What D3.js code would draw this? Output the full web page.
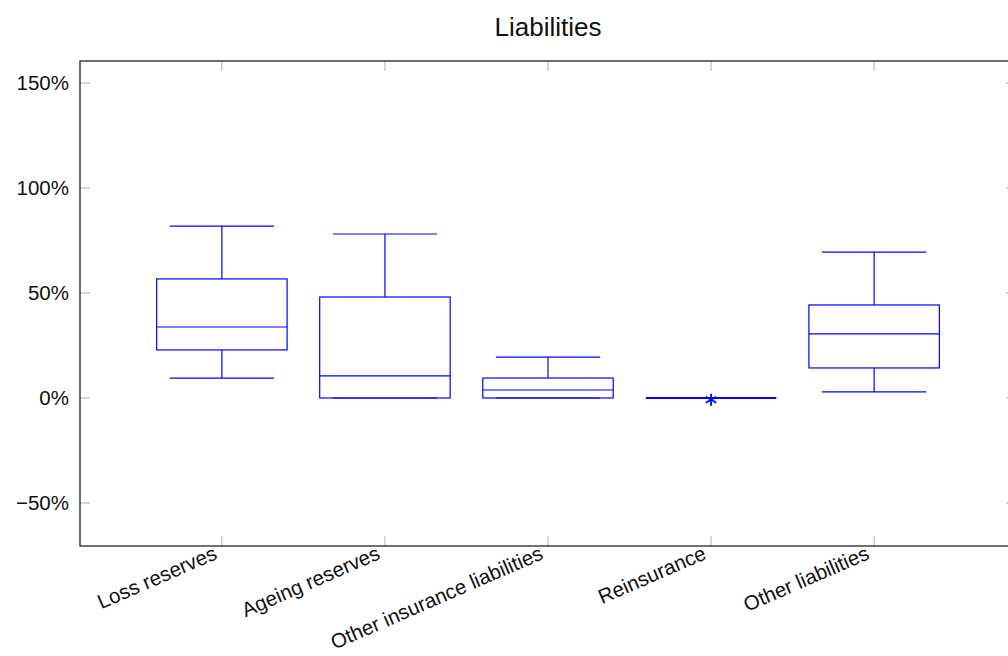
<!DOCTYPE html>
<html><head><meta charset="utf-8">
<script src="https://cdn.jsdelivr.net/npm/d3@7"></script>
<style>body{margin:0;background:#fff}svg{display:block}text{font-family:"Liberation Sans",Arial,Helvetica,sans-serif}</style>
</head><body>
<script>
const categories = ["Loss reserves","Ageing reserves","Other insurance liabilities","Reinsurance","Other liabilities"];
const whiskerLow = [9.5, 0, 0, 0, 2.9];
const q1 = [22.9, 0, 0, 0, 14.3];
const median = [33.8, 10.5, 3.8, 0, 30.5];
const q3 = [56.7, 48.1, 9.5, 0, 44.3];
const whiskerHigh = [81.9, 78.1, 19.5, 0, 69.5];
const outliers = [[], [], [], [-0.8], []];
const yTicks = [-50, 0, 50, 100, 150];
const title = "Liabilities";

const W = 1008, H = 656;
const m = {left: 80, right: 1016, top: 61, bottom: 546};
const svg = d3.select("body").append("svg").attr("width", W).attr("height", H);

const x = d3.scaleLinear().domain([0.13, 5.87]).range([m.left, m.right]);
const y = d3.scaleLinear().domain([-70.5, 160.5]).range([m.bottom, m.top]);
const unit = x(2) - x(1);

const tickColor = "#b0b0b0";
const g = svg.append("g");
yTicks.forEach(t => {
  g.append("line").attr("x1", m.left).attr("x2", m.left + 10).attr("y1", y(t)).attr("y2", y(t)).attr("stroke", tickColor).attr("stroke-width", 1);
  g.append("line").attr("x1", m.right - 10).attr("x2", m.right).attr("y1", y(t)).attr("y2", y(t)).attr("stroke", tickColor).attr("stroke-width", 1);
  g.append("text").attr("x", m.left - 11).attr("y", y(t)).attr("dy", "0.36em").attr("text-anchor", "end")
   .attr("font-size", 20.5).attr("fill", "#111").text((t < 0 ? "\u2212" + Math.abs(t) : t) + "%");
});
categories.forEach((c, i) => {
  const cx = x(i + 1);
  g.append("line").attr("x1", cx).attr("x2", cx).attr("y1", m.top).attr("y2", m.top + 10).attr("stroke", tickColor).attr("stroke-width", 1);
  g.append("line").attr("x1", cx).attr("x2", cx).attr("y1", m.bottom - 10).attr("y2", m.bottom).attr("stroke", tickColor).attr("stroke-width", 1);
  g.append("text").attr("transform", `translate(${cx - 8},${m.bottom + 2}) rotate(-23.5)`)
   .attr("text-anchor", "end").attr("dy", "0.55em").attr("font-size", 20.5).attr("fill", "#111").text(c);
});

svg.append("rect").attr("x", m.left).attr("y", m.top).attr("width", m.right - m.left).attr("height", m.bottom - m.top)
  .attr("fill", "none").attr("stroke", "#111").attr("stroke-width", 1.2);

const blue = "#0000ff";
const bg = svg.append("g").attr("stroke", blue).attr("stroke-width", 1.2).attr("fill", "none");
categories.forEach((c, i) => {
  const cx = x(i + 1);
  const bw = 0.8 * unit / 2, ww = 0.64 * unit / 2;
  const flat = q1[i] === q3[i];
  bg.append("line").attr("x1", cx).attr("x2", cx).attr("y1", y(q3[i])).attr("y2", y(whiskerHigh[i]));
  bg.append("line").attr("x1", cx).attr("x2", cx).attr("y1", y(q1[i])).attr("y2", y(whiskerLow[i]));
  bg.append("line").attr("x1", cx - ww).attr("x2", cx + ww).attr("y1", y(whiskerHigh[i])).attr("y2", y(whiskerHigh[i]));
  bg.append("line").attr("x1", cx - ww).attr("x2", cx + ww).attr("y1", y(whiskerLow[i])).attr("y2", y(whiskerLow[i]));
  bg.append("rect").attr("x", cx - bw).attr("width", 2 * bw).attr("y", y(q3[i])).attr("height", Math.max(0, y(q1[i]) - y(q3[i])));
  bg.append("line").attr("x1", cx - bw).attr("x2", cx + bw).attr("y1", y(median[i])).attr("y2", y(median[i]))
    .attr("stroke-width", flat ? 2 : 1.2);
  outliers[i].forEach(o => {
    const s = svg.append("g").attr("transform", `translate(${cx},${y(o)})`).attr("stroke", blue).attr("stroke-width", 1.8);
    [0, 60, 120].forEach(a => {
      const r = 6, t = a * Math.PI / 180;
      s.append("line").attr("x1", -r * Math.sin(t)).attr("y1", -r * Math.cos(t)).attr("x2", r * Math.sin(t)).attr("y2", r * Math.cos(t));
    });
  });
});

svg.append("text").attr("x", (m.left + m.right) / 2).attr("y", 36).attr("text-anchor", "middle")
  .attr("font-size", 26).attr("fill", "#111").text(title);
</script>
</body></html>
